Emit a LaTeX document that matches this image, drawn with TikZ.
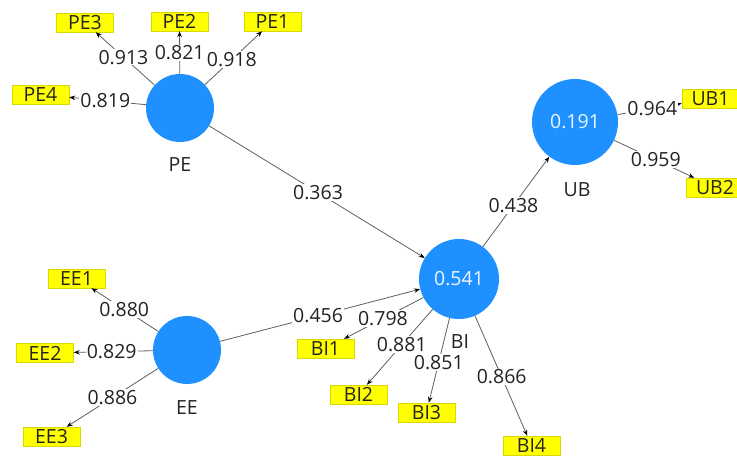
\documentclass[tikz,border=0pt]{standalone}
\usepackage{fontspec}
\setmainfont{Open Sans}
\usetikzlibrary{arrows.meta}

\definecolor{lvblue}{RGB}{30,144,255}
\definecolor{indyellow}{RGB}{255,255,0}
\definecolor{txtgray}{RGB}{35,35,35}
\definecolor{linegray}{RGB}{95,95,95}

\begin{document}
\begin{tikzpicture}[x=1pt,y=-1pt,
  every node/.style={font=\fontsize{19.5}{21}\selectfont, text=txtgray},
  latent/.style={circle, fill=lvblue, draw=none, minimum size=#1, inner sep=0pt, text=white!92!lvblue},
  indicator/.style={fill=indyellow, draw=indyellow!85!black, line width=0.4pt,
                    minimum width=57pt, minimum height=19pt, inner sep=0pt},
  link/.style={draw=linegray, line width=0.8pt, -{Stealth[length=6pt,width=4.5pt,color=black]}},
  coef/.style={fill=white, inner sep=1.2pt, pos=#1},
  coef/.default=0.5,
]
\useasboundingbox (0,0) rectangle (737,457);

% latent variables
\node[latent=68pt] (PE) at (180,108) {};
\node[latent=68pt] (EE) at (187,350) {};
\node[latent=80pt] (BI) at (459,279) {0.541};
\node[latent=86pt] (UB) at (575,122) {0.191};

% construct names
\node (PEname) at (180,165) {PE};
\node (EEname) at (187,408) {EE};
\node (BIname) at (460,342) {BI};
\node (UBname) at (577,190) {UB};

% indicators
\node[indicator] (PE3) at (85,22.5) {PE3};
\node[indicator] (PE2) at (179.5,21.5) {PE2};
\node[indicator] (PE1) at (272.5,21.5) {PE1};
\node[indicator] (PE4) at (40.5,94.5) {PE4};

\node[indicator] (EE1) at (76.5,278.5) {EE1};
\node[indicator] (EE2) at (45,353) {EE2};
\node[indicator] (EE3) at (51.5,436.5) {EE3};

\node[indicator] (BI1) at (325.5,348.5) {BI1};
\node[indicator] (BI2) at (358.5,394.5) {BI2};
\node[indicator] (BI3) at (426.5,412.5) {BI3};
\node[indicator] (BI4) at (531.5,445.5) {BI4};

\node[indicator] (UB1) at (710.5,98.5) {UB1};
\node[indicator] (UB2) at (715,187.5) {UB2};

% outer loadings
\draw[link] (PE) -- node[coef=0.53] {0.913} (PE3);
\draw[link] (PE) -- node[coef=0.49] {0.821} (PE2);
\draw[link] (PE) -- node[coef=0.47] {0.918} (PE1);
\draw[link] (PE) -- node[coef=0.53] {0.819} (PE4);

\draw[link] (EE) -- node[coef=0.51] {0.880} (EE1);
\draw[link] (EE) -- node[coef=0.52] {0.829} (EE2);
\draw[link] (EE) -- node[coef=0.50] {0.886} (EE3);

\draw[link] (BI) -- node[coef=0.51] {0.798} (BI1);
\draw[link] (BI) -- node[coef=0.47] {0.881} (BI2);
\draw[link] (BI) -- node[coef=0.52] {0.851} (BI3);
\draw[link] (BI) -- node[coef=0.51] {0.866} (BI4);

\draw[link] (UB) -- node[coef=0.54] {0.964} (UB1);
\draw[link] (UB) -- node[coef=0.52] {0.959} (UB2);

% structural paths
\draw[link] (PE) -- node[coef=0.505] {0.363} (BI);
\draw[link] (EE) -- node[coef=0.49] {0.456} (BI);
\draw[link] (BI) -- node[coef=0.46] {0.438} (UB);
\end{tikzpicture}
\end{document}
